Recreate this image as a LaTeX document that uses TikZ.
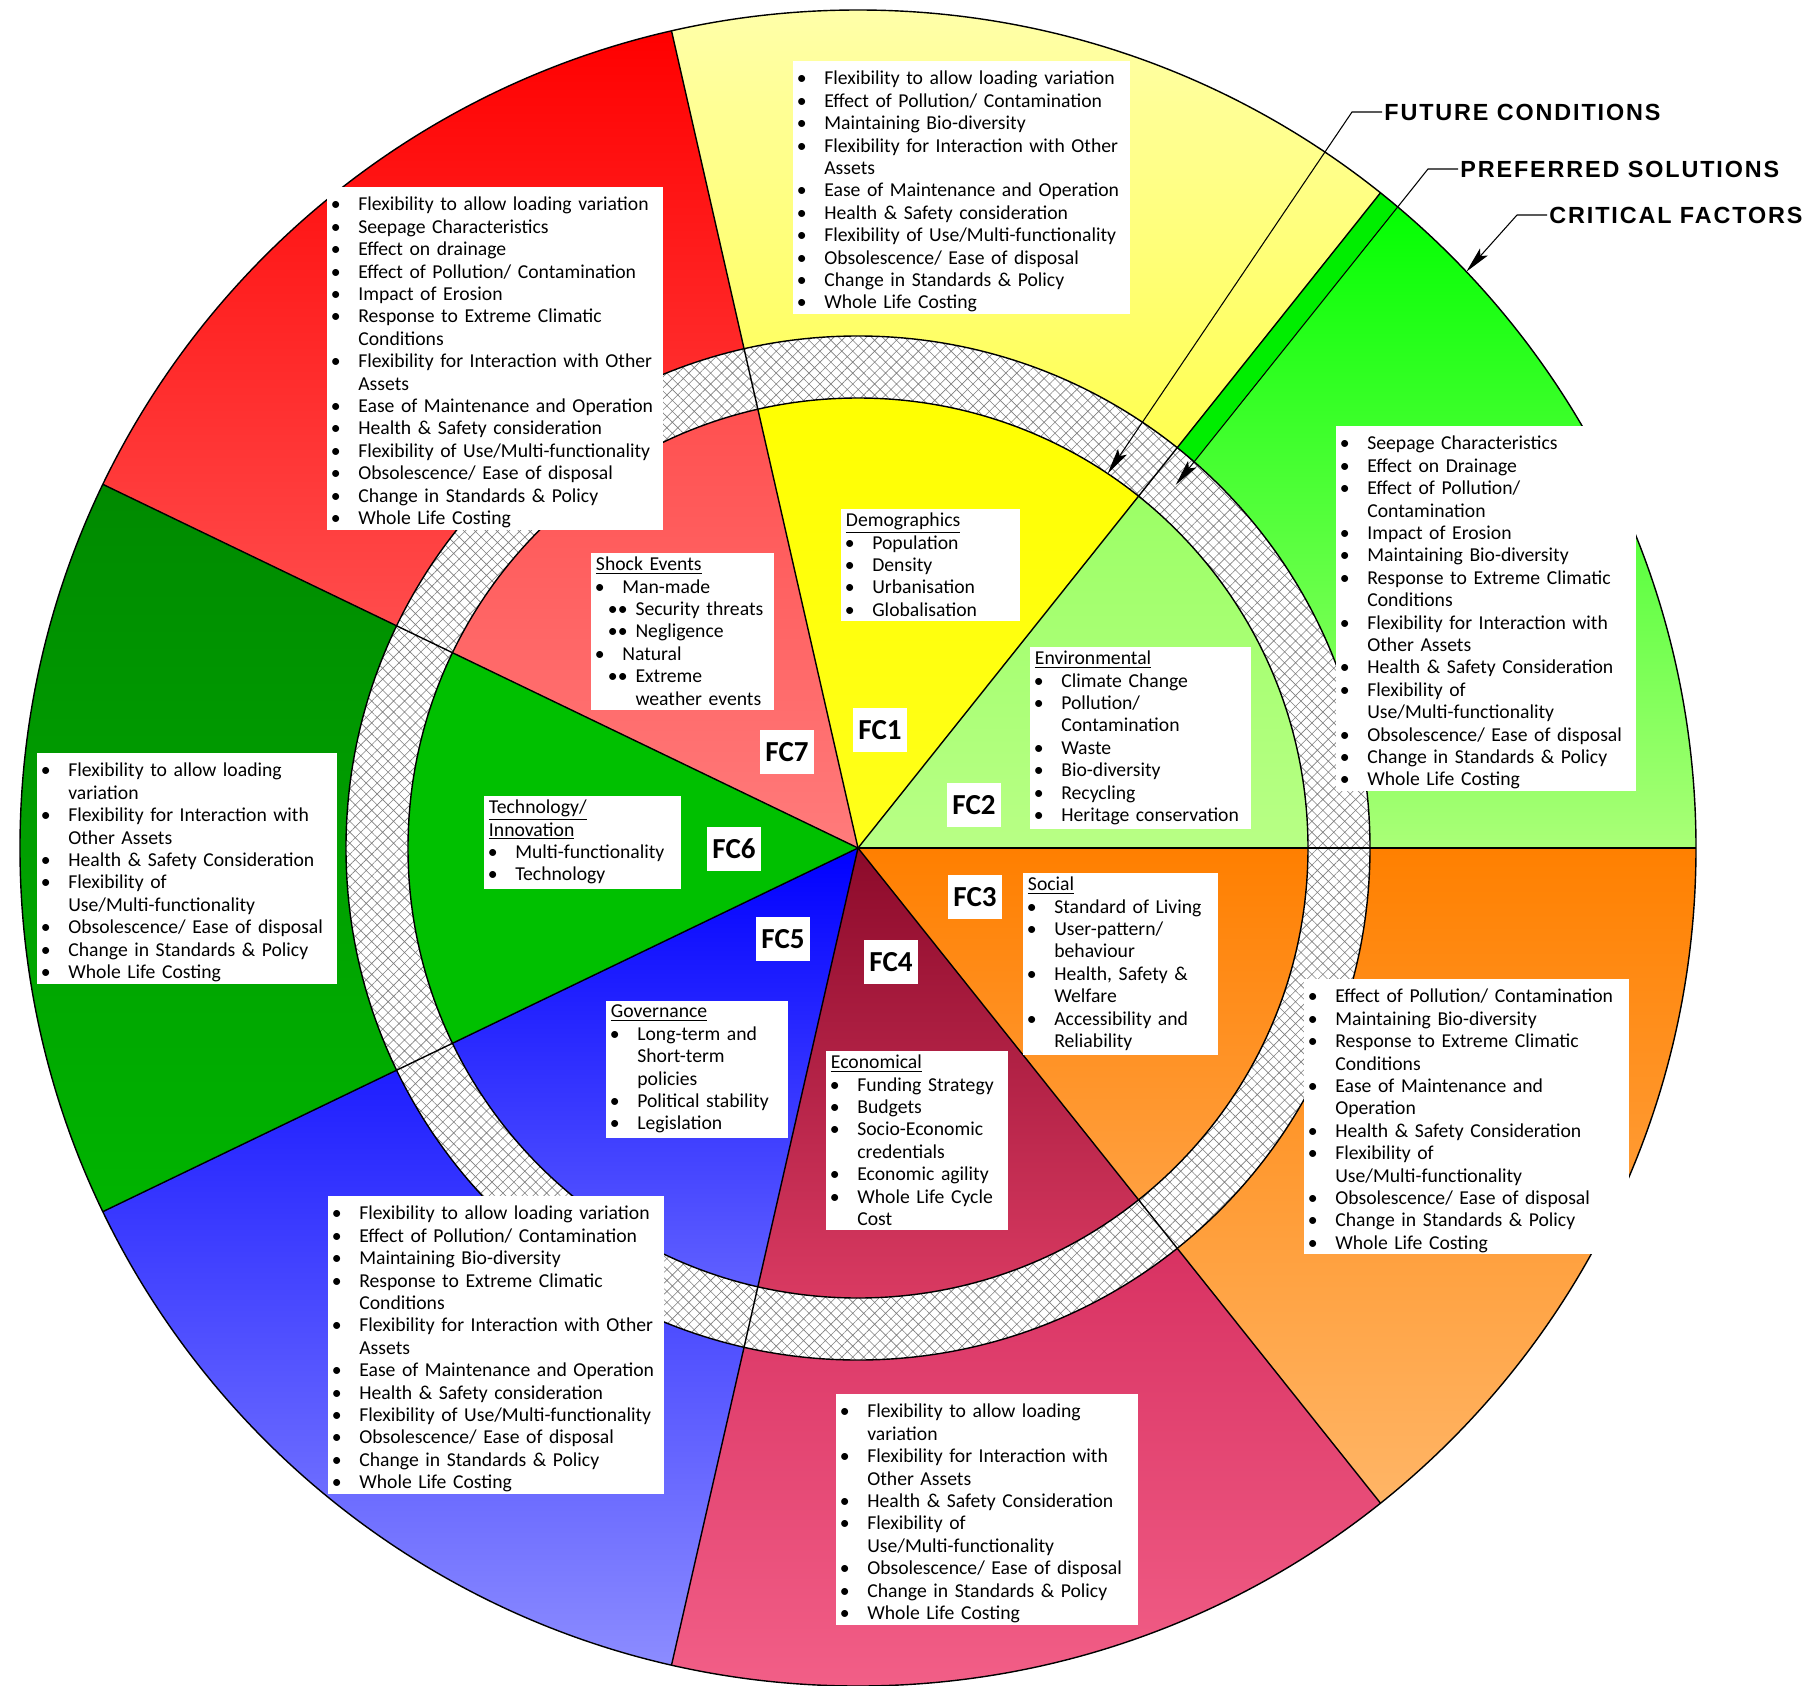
\documentclass[tikz,border=0pt]{standalone}
\usepackage{fontspec}
\setmainfont{Carlito}
\newfontfamily\capfont[LetterSpace=8]{Liberation Sans}
\usepackage{enumitem}
\setlist[itemize]{label=\textbullet, leftmargin=15pt, labelsep=10pt, itemsep=0pt, topsep=0pt, parsep=0pt, partopsep=0pt}
\setlength{\parindent}{0pt}
\usetikzlibrary{calc, arrows.meta, patterns.meta}

% 外圈颜色（上 -> 下渐变）
\definecolor{grnOT}{HTML}{00FF00}\definecolor{grnOB}{HTML}{AAFF77}
\definecolor{yelOT}{HTML}{FFFFB0}\definecolor{yelOB}{HTML}{FFFF50}
\definecolor{redOT}{HTML}{FF0000}\definecolor{redOB}{HTML}{FF4C4C}
\definecolor{dgnOT}{HTML}{008A00}\definecolor{dgnOB}{HTML}{00B400}
\definecolor{bluOT}{HTML}{1E1EFF}\definecolor{bluOB}{HTML}{8C8CFF}
\definecolor{crmOT}{HTML}{D83262}\definecolor{crmOB}{HTML}{F4628A}
\definecolor{ornOT}{HTML}{FF8000}\definecolor{ornOB}{HTML}{FFB566}
% 内圈颜色
\definecolor{grnIT}{HTML}{9CFF66}\definecolor{grnIB}{HTML}{B8FF85}
\definecolor{yelIT}{HTML}{FFFF00}\definecolor{yelIB}{HTML}{FFFF1A}
\definecolor{redIT}{HTML}{FF5050}\definecolor{redIB}{HTML}{FF7B7B}
\definecolor{dgnIT}{HTML}{00C000}\definecolor{dgnIB}{HTML}{00C000}
\definecolor{bluIT}{HTML}{0000FF}\definecolor{bluIB}{HTML}{6060FF}
\definecolor{crmIT}{HTML}{8C0A2A}\definecolor{crmIB}{HTML}{DC3C64}
\definecolor{ornIT}{HTML}{FF7F00}\definecolor{ornIB}{HTML}{FFA040}
\definecolor{stripgrn}{HTML}{00EE00}

\begin{document}
\begin{tikzpicture}[x=0.02cm, y=0.02cm, line width=0.8pt,
  txtbox/.style={fill=white, anchor=north west, align=left, inner xsep=3pt, inner ysep=2.5pt,
    text width=#1, font=\fontsize{11.2}{12.75}\selectfont},
  solbox/.style={txtbox=#1, inner ysep=1pt},
  fcbox/.style={fill=white, minimum width=1.08cm, minimum height=0.88cm, inner sep=1pt,
    font=\fontsize{16.5}{18}\selectfont\bfseries},
  lead/.style={anchor=west, inner sep=1pt, font=\capfont\fontsize{13.3}{15}\selectfont\bfseries},
  leader/.style={line width=0.6pt, -{Stealth[length=15pt, width=6pt, inset=3pt]}}]
  \useasboundingbox (-858,-837) rectangle (953,848);
  \pgfmathsetmacro{\R}{838}
  \pgfmathsetmacro{\ra}{450}
  \pgfmathsetmacro{\rb}{512}
  \pgfmathsetmacro{\w}{360/7}
  \coordinate (O) at (0,0);

  % 外圈 7 个扇形（只画环外部分）
  \foreach \k/\oT/\oB in {0/grnOT/grnOB, 1/yelOT/yelOB, 2/redOT/redOB, 3/dgnOT/dgnOB,
                          4/bluOT/bluOB, 5/crmOT/crmOB, 6/ornOT/ornOB} {
    \pgfmathsetmacro{\angA}{\k*\w}
    \pgfmathsetmacro{\angB}{(\k+1)*\w}
    \shade[top color=\oT, bottom color=\oB] (\angA:\rb) -- (\angA:\R)
      arc[start angle=\angA, end angle=\angB, radius=\R] -- (\angB:\rb)
      arc[start angle=\angB, end angle=\angA, radius=\rb] -- cycle;
  }

  % 分界线旁的绿色窄条：宽 22，与分界线平行
  \begin{scope}
    \clip (O) circle[radius=\R];
    \fill[stripgrn] (O) -- (\w:900) -- ++(\w-90:22) -- (\w-90:22) -- cycle;
  \end{scope}

  % 内圈 7 个扇形
  \foreach \k/\iT/\iB in {0/grnIT/grnIB, 1/yelIT/yelIB, 2/redIT/redIB, 3/dgnIT/dgnIB,
                          4/bluIT/bluIB, 5/crmIT/crmIB, 6/ornIT/ornIB} {
    \pgfmathsetmacro{\angA}{\k*\w}
    \pgfmathsetmacro{\angB}{(\k+1)*\w}
    \shade[top color=\iT, bottom color=\iB] (O) -- (\angA:\ra)
      arc[start angle=\angA, end angle=\angB, radius=\ra] -- cycle;
  }

  % 网格环
  \fill[white, even odd rule] (O) circle[radius=\rb] circle[radius=\ra];
  \fill[pattern={Hatch[angle=45, distance=4.4pt, line width=0.35pt]}, pattern color=gray,
    even odd rule] (O) circle[radius=\rb] circle[radius=\ra];

  \foreach \k in {0,...,6} \draw (O) -- (\k*\w:\R);
  \draw (O) circle[radius=\R];
  \draw (O) circle[radius=\rb];
  \draw (O) circle[radius=\ra];

  % 指引线
  \coordinate (FCtip) at (56.3:\ra);
  \coordinate (PStip) at ($(\w:482)+(\w-90:22)$);
  \coordinate (CFtip) at (43.45:\R);
  \node[lead] (FCond) at (524,736) {FUTURE CONDITIONS};
  \node[lead] (PSol) at (600,679) {PREFERRED SOLUTIONS};
  \node[lead] (CFac) at (689,633) {CRITICAL FACTORS};
  \draw[leader] (FCond.west) -- ++(-30,0) -- (FCtip);
  \draw[leader] (PSol.west) -- ++(-30,0) -- (PStip);
  \draw[leader] (CFac.west) -- ++(-30,0) -- (CFtip);

  % 外圈文字框
  \node[solbox=6.53cm] (SolA) at (-66,788) {\begin{itemize}
    \item Flexibility to allow loading variation
    \item Effect of Pollution/ Contamination
    \item Maintaining Bio-diversity
    \item Flexibility for Interaction with Other\newline Assets
    \item Ease of Maintenance and Operation
    \item Health \& Safety consideration
    \item Flexibility of Use/Multi-functionality
    \item Obsolescence/ Ease of disposal
    \item Change in Standards \& Policy
    \item Whole Life Costing
  \end{itemize}};
  \node[solbox=6.51cm] (SolB) at (-532,662) {\begin{itemize}
    \item Flexibility to allow loading variation
    \item Seepage Characteristics
    \item Effect on drainage
    \item Effect of Pollution/ Contamination
    \item Impact of Erosion
    \item Response to Extreme Climatic\newline Conditions
    \item Flexibility for Interaction with Other\newline Assets
    \item Ease of Maintenance and Operation
    \item Health \& Safety consideration
    \item Flexibility of Use/Multi-functionality
    \item Obsolescence/ Ease of disposal
    \item Change in Standards \& Policy
    \item Whole Life Costing
  \end{itemize}};
  \node[solbox=5.79cm] (SolC) at (477,423) {\begin{itemize}
    \item Seepage Characteristics
    \item Effect on Drainage
    \item Effect of Pollution/\newline Contamination
    \item Impact of Erosion
    \item Maintaining Bio-diversity
    \item Response to Extreme Climatic\newline Conditions
    \item Flexibility for Interaction with\newline Other Assets
    \item Health \& Safety Consideration
    \item Flexibility of\newline Use/Multi-functionality
    \item Obsolescence/ Ease of disposal
    \item Change in Standards \& Policy
    \item Whole Life Costing
  \end{itemize}};
  \node[solbox=5.79cm] (SolD) at (-822,96) {\begin{itemize}
    \item Flexibility to allow loading\newline variation
    \item Flexibility for Interaction with\newline Other Assets
    \item Health \& Safety Consideration
    \item Flexibility of\newline Use/Multi-functionality
    \item Obsolescence/ Ease of disposal
    \item Change in Standards \& Policy
    \item Whole Life Costing
  \end{itemize}};
  \node[solbox=6.51cm] (SolE) at (-531,-347) {\begin{itemize}
    \item Flexibility to allow loading variation
    \item Effect of Pollution/ Contamination
    \item Maintaining Bio-diversity
    \item Response to Extreme Climatic\newline Conditions
    \item Flexibility for Interaction with Other\newline Assets
    \item Ease of Maintenance and Operation
    \item Health \& Safety consideration
    \item Flexibility of Use/Multi-functionality
    \item Obsolescence/ Ease of disposal
    \item Change in Standards \& Policy
    \item Whole Life Costing
  \end{itemize}};
  \node[solbox=5.83cm] (SolF) at (-23,-545) {\begin{itemize}
    \item Flexibility to allow loading\newline variation
    \item Flexibility for Interaction with\newline Other Assets
    \item Health \& Safety Consideration
    \item Flexibility of\newline Use/Multi-functionality
    \item Obsolescence/ Ease of disposal
    \item Change in Standards \& Policy
    \item Whole Life Costing
  \end{itemize}};
  \node[solbox=6.29cm] (SolG) at (445,-130) {\begin{itemize}
    \item Effect of Pollution/ Contamination
    \item Maintaining Bio-diversity
    \item Response to Extreme Climatic\newline Conditions
    \item Ease of Maintenance and\newline Operation
    \item Health \& Safety Consideration
    \item Flexibility of\newline Use/Multi-functionality
    \item Obsolescence/ Ease of disposal
    \item Change in Standards \& Policy
    \item Whole Life Costing
  \end{itemize}};

  % 内圈文字框
  \node[txtbox=3.37cm] (Demo) at (-18,340) {\underline{Demographics}
  \begin{itemize}
    \item Population
    \item Density
    \item Urbanisation
    \item Globalisation
  \end{itemize}};
  \node[txtbox=3.45cm] (Shock) at (-268,296) {\underline{Shock Events}
  \begin{itemize}
    \item Man-made
    \begin{itemize}[label=\textbullet\textbullet, leftmargin=7.5pt, labelsep=4.5pt]
      \item Security threats
      \item Negligence
    \end{itemize}
    \item Natural
    \begin{itemize}[label=\textbullet\textbullet, leftmargin=7.5pt, labelsep=4.5pt]
      \item Extreme\newline weather events
    \end{itemize}
  \end{itemize}};
  \node[txtbox=4.21cm] (Envi) at (171,202) {\underline{Environmental}
  \begin{itemize}
    \item Climate Change
    \item Pollution/\newline Contamination
    \item Waste
    \item Bio-diversity
    \item Recycling
    \item Heritage conservation
  \end{itemize}};
  \node[txtbox=3.69cm] (Soci) at (164,-24) {\underline{Social}
  \begin{itemize}
    \item Standard of Living
    \item User-pattern/\newline behaviour
    \item Health, Safety \&\newline Welfare
    \item Accessibility and\newline Reliability
  \end{itemize}};
  \node[txtbox=3.43cm] (Gove) at (-253,-152) {\underline{Governance}
  \begin{itemize}
    \item Long-term and\newline Short-term\newline policies
    \item Political stability
    \item Legislation
  \end{itemize}};
  \node[txtbox=3.43cm] (Econ) at (-33,-202) {\underline{Economical}
  \begin{itemize}
    \item Funding Strategy
    \item Budgets
    \item Socio-Economic\newline credentials
    \item Economic agility
    \item Whole Life Cycle\newline Cost
  \end{itemize}};
  \node[txtbox=3.73cm] (Tech) at (-375,53) {\underline{Technology/}\newline\underline{Innovation}
  \begin{itemize}
    \item Multi-functionality
    \item Technology
  \end{itemize}};

  % FC 标签
  \node[fcbox] (FCa) at (22,118) {FC1};
  \node[fcbox] (FCb) at (116,43) {FC2};
  \node[fcbox] (FCc) at (117,-49) {FC3};
  \node[fcbox] (FCd) at (33,-114) {FC4};
  \node[fcbox] (FCe) at (-75,-91) {FC5};
  \node[fcbox] (FCf) at (-124,-1) {FC6};
  \node[fcbox] (FCg) at (-71,96) {FC7};
\end{tikzpicture}
\end{document}
